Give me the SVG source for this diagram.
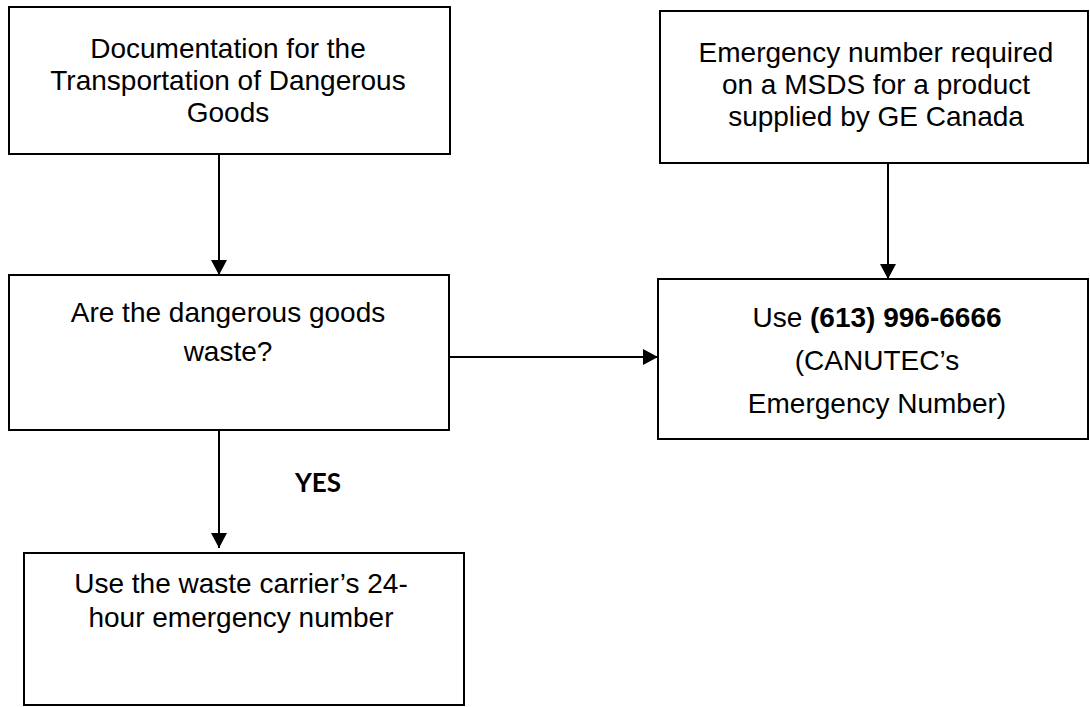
<svg xmlns="http://www.w3.org/2000/svg" width="1090" height="707" viewBox="0 0 1090 707">
<defs>
<style>
.box{fill:#fff;stroke:#000;stroke-width:2}
.t{font-family:"Liberation Sans",Arial,sans-serif;font-size:28px;fill:#000;text-anchor:middle}
.b{font-weight:bold}
.lbl{font-family:Lato,"Open Sans",sans-serif;font-weight:bold;font-size:26px;fill:#000}
.c{fill:none;stroke:#000;stroke-width:2}
</style>
<marker id="ah" markerUnits="userSpaceOnUse" markerWidth="15" markerHeight="16" refX="15" refY="8" orient="auto">
<path d="M0,0 L15,8 L0,16 z" fill="#000"/>
</marker>
</defs>
<rect width="1090" height="707" fill="#fff"/>
<g id="connectors">
<path class="c" d="M219,155 V275" marker-end="url(#ah)"/>
<path class="c" d="M888,163 V279" marker-end="url(#ah)"/>
<path class="c" d="M449,357 H658" marker-end="url(#ah)"/>
<path class="c" d="M219,430 V548" marker-end="url(#ah)"/>
<text class="lbl" x="295" y="492">YES</text>
</g>
<g id="n1">
<rect class="box" x="9" y="7" width="441" height="147"/>
<text class="t" x="228" y="58">Documentation for the</text>
<text class="t" x="228" y="90">Transportation of Dangerous</text>
<text class="t" x="228" y="122">Goods</text>
</g>
<g id="n2">
<rect class="box" x="660" y="11" width="428" height="152"/>
<text class="t" x="876" y="62">Emergency number required</text>
<text class="t" x="876" y="94">on a MSDS for a product</text>
<text class="t" x="876" y="126">supplied by GE Canada</text>
</g>
<g id="n3">
<rect class="box" x="9" y="275" width="440" height="155"/>
<text class="t" x="228" y="322">Are the dangerous goods</text>
<text class="t" x="228" y="361">waste?</text>
</g>
<g id="n4">
<rect class="box" x="658" y="279" width="430" height="160"/>
<text class="t" x="877" y="327">Use <tspan class="b">(613) 996-6666</tspan></text>
<text class="t" x="877" y="370">(CANUTEC’s</text>
<text class="t" x="877" y="413">Emergency Number)</text>
</g>
<g id="n5">
<rect class="box" x="24" y="553" width="440" height="152"/>
<text class="t" x="241" y="593">Use the waste carrier’s 24-</text>
<text class="t" x="241" y="627">hour emergency number</text>
</g>
</svg>
